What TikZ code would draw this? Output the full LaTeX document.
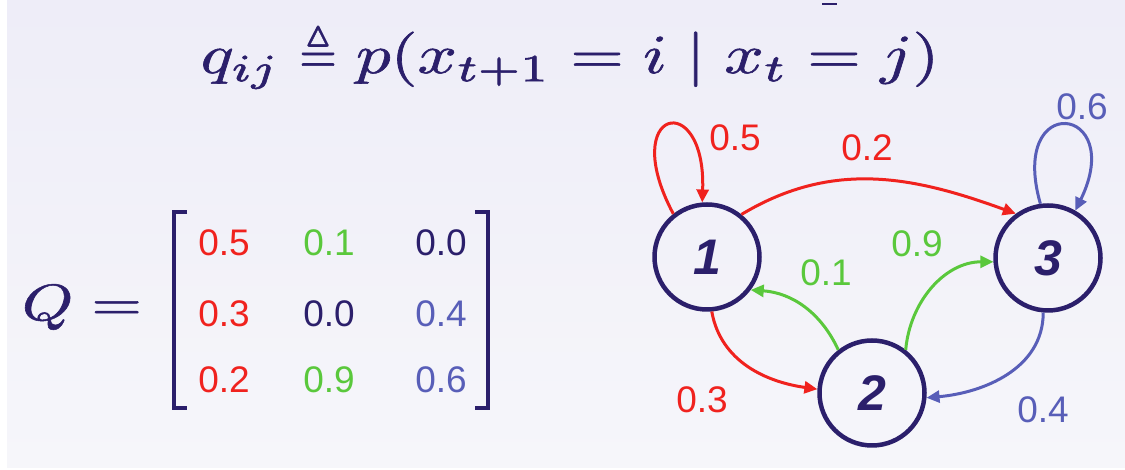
\documentclass[tikz,border=0pt]{standalone}
\usepackage{fontspec}
\setsansfont{Liberation Sans}
\usepackage{amsmath,amssymb}
\usepackage{graphicx}
\usetikzlibrary{arrows.meta}
\definecolor{navy}{RGB}{43,31,107}
\definecolor{myred}{RGB}{240,34,30}
\definecolor{mygreen}{RGB}{90,200,60}
\definecolor{myblue}{RGB}{88,94,184}
\definecolor{bgtop}{RGB}{238,237,248}
\definecolor{bgbot}{RGB}{246,246,250}
\newcommand{\heavytext}[1]{\special{pdf:literal direct 0.1 w 2 Tr}#1\special{pdf:literal direct 0 Tr}}
\begin{document}
\begin{tikzpicture}[x=1pt,y=1pt,
  state/.style={circle,draw=navy,line width=4.5pt,minimum size=105pt,inner sep=0pt,text=navy,
    font=\fontsize{50}{50}\selectfont\sffamily\bfseries\itshape},
  lbl/.style={font=\fontsize{37}{40}\selectfont\sffamily,inner sep=0pt},
  edgearrow/.style={line width=3pt,-{Triangle[length=13pt,width=12pt]}},
  bracket/.style={draw=navy,line width=4pt},
  mathtext/.style={text=navy,inner sep=0pt}
]
\useasboundingbox (0,0) rectangle (1125,470);
\fill[white] (0,0) rectangle (1125,470);
\shade[top color=bgtop,bottom color=bgbot] (7,2) rectangle (1125,470);
\fill[navy] (822,464.5) rectangle (837,466.5);

% formula
\node[mathtext,anchor=base] (formula) at (570,397)
  {\scalebox{6.9}[5.5]{\heavytext{$q_{ij} \mathrel{\scalebox{0.7}[1]{$\triangleq$}} p(x_{t+1} = i \mid x_t = j)$}}};

% Q =
\node[mathtext,anchor=base] (qeq) at (82,150) {\scalebox{6.5}[5.1]{\heavytext{$Q =$}}};

% brackets
\draw[bracket] (187,258) -- (174,258) -- (174,62) -- (187,62);
\draw[bracket] (475,258) -- (488,258) -- (488,62) -- (475,62);

% matrix entries
\node[lbl,text=myred]   (m11) at (224,227) {0.5};
\node[lbl,text=mygreen] (m12) at (329,227) {0.1};
\node[lbl,text=navy]    (m13) at (441,227) {0.0};
\node[lbl,text=myred]   (m21) at (224,156) {0.3};
\node[lbl,text=navy]    (m22) at (329,156) {0.0};
\node[lbl,text=myblue]  (m23) at (441,156) {0.4};
\node[lbl,text=myred]   (m31) at (224,90) {0.2};
\node[lbl,text=mygreen] (m32) at (329,90) {0.9};
\node[lbl,text=myblue]  (m33) at (441,90) {0.6};

% states
\node[state] (n1) at (707,213) {1};
\node[state] (n2) at (872,77) {2};
\node[state] (n3) at (1048,212) {3};

% edges
\draw[edgearrow,myred] (n1.128) to[out=118,in=88,out distance=120,in distance=115] (n1.95);
\draw[edgearrow,myred] (n1.51) to[out=31,in=160] (n3.126);
\draw[edgearrow,myred] (n1.-85) to[out=-80,in=172] (n2.176);
\draw[edgearrow,mygreen] (n2.128) to[out=115,in=-4] (n1.-37);
\draw[edgearrow,mygreen] (n2.52) to[out=85,in=180] (n3.184);
\draw[edgearrow,myblue] (n3.-95) to[out=-90,in=5] (n2.-5);
\draw[edgearrow,myblue] (n3.98) to[out=106,in=64,distance=118] (n3.60);

% edge labels
\node[lbl,text=myred]   (l11) at (735,332) {0.5};
\node[lbl,text=myred]   (l13) at (867,322) {0.2};
\node[lbl,text=myblue]  (l33) at (1082,363) {0.6};
\node[lbl,text=mygreen] (l23) at (917,226) {0.9};
\node[lbl,text=mygreen] (l21) at (826,197) {0.1};
\node[lbl,text=myred]   (l12) at (702,70) {0.3};
\node[lbl,text=myblue]  (l32) at (1043,60) {0.4};
\end{tikzpicture}
\end{document}
